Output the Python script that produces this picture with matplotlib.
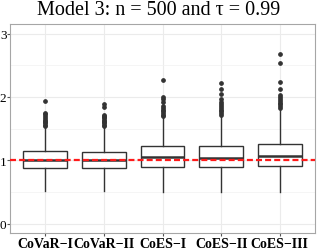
import matplotlib
matplotlib.use("Agg")
import matplotlib.pyplot as plt
from matplotlib.ticker import MultipleLocator

# box statistics
labels = ["CoVaR\u2212I", "CoVaR\u2212II", "CoES\u2212I", "CoES\u2212II", "CoES\u2212III"]
whislo = [0.52, 0.52, 0.49, 0.49, 0.49]
q1 = [0.88, 0.87, 0.90, 0.895, 0.91]
med = [1.00, 1.00, 1.05, 1.04, 1.07]
q3 = [1.14, 1.125, 1.225, 1.22, 1.26]
whishi = [1.52, 1.52, 1.67, 1.68, 1.80]
fliers = [
    [1.54, 1.56, 1.58, 1.60, 1.62, 1.64, 1.66, 1.70, 1.73, 1.75, 1.94],
    [1.54, 1.56, 1.58, 1.60, 1.62, 1.64, 1.66, 1.68, 1.70, 1.72, 1.84, 1.89],
    [1.69, 1.71, 1.74, 1.77, 1.80, 1.83, 1.86, 1.92, 1.96, 2.00, 2.27],
    [1.71, 1.74, 1.77, 1.80, 1.83, 1.86, 1.89, 1.92, 1.97, 2.04, 2.13, 2.22],
    [1.82, 1.85, 1.88, 1.91, 1.94, 1.97, 2.00, 2.03, 2.12, 2.23, 2.53, 2.67],
]
ref_value = 1.0

stats = []
for i in range(len(labels)):
    stats.append(dict(label=labels[i], whislo=whislo[i], q1=q1[i], med=med[i],
                      q3=q3[i], whishi=whishi[i], fliers=fliers[i]))

fig = plt.figure(figsize=(3.17, 2.53), dpi=100)
ax = fig.add_axes([10 / 317, 19 / 253, 305 / 317, 209 / 253])

ax.set_axisbelow(True)
ax.grid(which="major", color="#EBEBEB", lw=0.8)
ax.grid(which="minor", axis="y", color="#F2F2F2", lw=0.5)

dark = "#333333"
ax.bxp(stats, positions=range(1, 6), widths=0.75, patch_artist=True,
       boxprops=dict(facecolor="white", edgecolor=dark, lw=1.0),
       medianprops=dict(color=dark, lw=1.8),
       whiskerprops=dict(color=dark, lw=1.0),
       capprops=dict(lw=0), showcaps=False,
       flierprops=dict(marker="o", markersize=2.4, markerfacecolor=dark,
                       markeredgecolor=dark, lw=0))

ax.axhline(ref_value, color="#FF1A1A", lw=1.6, dashes=(2.7, 1.4), zorder=5)

ax.set_xlim(0.4, 5.6)
ax.set_ylim(-0.15, 3.15)
ax.yaxis.set_major_locator(MultipleLocator(1))
ax.yaxis.set_minor_locator(MultipleLocator(0.5))
ax.set_xticks(range(1, 6))
ax.set_xticklabels(labels, family="Liberation Serif", fontweight="bold", fontsize=10)
for t in ax.get_yticklabels():
    t.set_family("Liberation Serif")
    t.set_fontsize(9.5)
ax.tick_params(axis="x", which="major", length=2, color="#555555", pad=1)
ax.tick_params(axis="y", which="major", length=2, color="#555555", pad=0.5)
ax.tick_params(axis="y", which="minor", length=0)

for s in ax.spines.values():
    s.set_color("#A6A6A6")
    s.set_linewidth(0.8)

fig.suptitle("Model 3: n = 500 and \u03c4 = 0.99", family="Liberation Serif",
             fontsize=14.5, y=0.995, va="top")

fig.savefig("out.png", dpi=100)
